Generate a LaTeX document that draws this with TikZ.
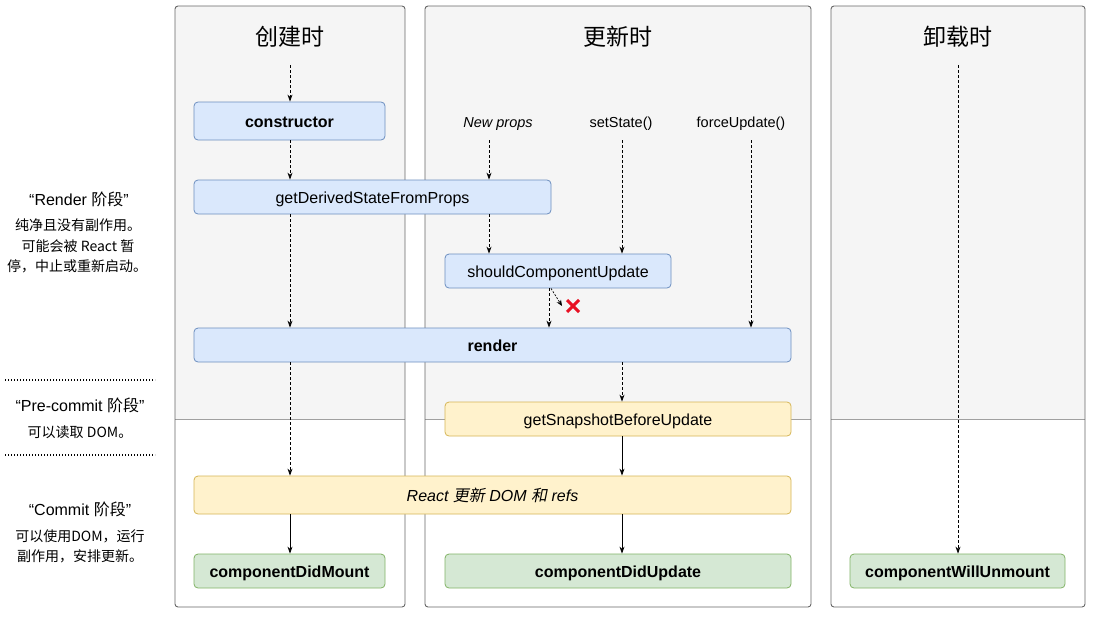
\documentclass[tikz,border=0pt]{standalone}
\usepackage{fontspec}
\setmainfont{Liberation Sans}
\newfontfamily\cjk{Noto Sans CJK SC}
\newfontfamily\cjki{Noto Sans CJK SC}[FakeSlant=0.2]
\usetikzlibrary{arrows.meta,calc}
\definecolor{colbg}{HTML}{F5F5F5}
\definecolor{colline}{HTML}{666666}
\definecolor{sepline}{HTML}{A0A0A0}
\definecolor{bfill}{HTML}{DAE8FC}
\definecolor{bline}{HTML}{6C8EBF}
\definecolor{yfill}{HTML}{FFF2CC}
\definecolor{yline}{HTML}{D6B656}
\definecolor{gfill}{HTML}{D5E8D4}
\definecolor{gline}{HTML}{82B366}
\definecolor{xred}{HTML}{E81123}
\begin{document}
\begin{tikzpicture}[x=1pt,y=-1pt,
  box/.style={draw, rounded corners=4pt, line width=0.8pt, inner sep=0pt, text=black, font=\fontsize{16}{19}\selectfont, text height=13pt, text depth=0pt},
  bluebox/.style={box, fill=bfill, draw=bline},
  yellowbox/.style={box, fill=yfill, draw=yline},
  greenbox/.style={box, fill=gfill, draw=gline},
  title/.style={font=\cjk\fontsize{23}{27}\selectfont, inner sep=0pt},
  trig/.style={font=\fontsize{14.5}{17}\selectfont, inner sep=0pt},
  phase/.style={font=\fontsize{16}{19}\selectfont, inner sep=0pt},
  desc/.style={font=\cjk\fontsize{14}{17}\selectfont, inner sep=0pt},
  dasharrow/.style={-{Stealth[length=7pt,width=5pt]}, dash pattern=on 3pt off 2pt, line width=0.8pt},
  solidarrow/.style={-{Stealth[length=7pt,width=5pt]}, line width=0.8pt},
  dotsep/.style={line width=1.3pt, dash pattern=on 1.3pt off 1.7pt},
  column/.style={draw=colline, line width=0.9pt, rounded corners=3pt}
]
\useasboundingbox (0,0) rectangle (1094,616);

% columns
\foreach \xa/\xb in {175/405, 425/811, 831/1085}{
  \begin{scope}
    \clip[rounded corners=3pt] (\xa,6) rectangle (\xb,607);
    \fill[white] (\xa,6) rectangle (\xb,607);
    \fill[colbg] (\xa,6) rectangle (\xb,419);
  \end{scope}
  \draw[sepline, line width=0.8pt] (\xa,419) -- (\xb,419);
  \draw[column] (\xa,6) rectangle (\xb,607);
}

% titles
\node[title] (t1) at (290,37) {创建时};
\node[title] (t2) at (618,37) {更新时};
\node[title] (t3) at (958,37) {卸载时};

% trigger labels
\node[trig] (np) at (498,124) {\itshape New props};
\node[trig] (ss) at (621,124) {setState()};
\node[trig] (fu) at (741,124) {forceUpdate()};

% nodes
\node[bluebox, minimum width=191, minimum height=38] (ctor) at (289.5,121) {\bfseries constructor};
\node[bluebox, minimum width=357, minimum height=34] (gdsfp) at (372.5,197) {getDerivedStateFromProps};
\node[bluebox, minimum width=226, minimum height=34] (scu) at (558,271) {shouldComponentUpdate};
\node[bluebox, minimum width=597, minimum height=34] (render) at (492.5,345) {\bfseries render};
\node[yellowbox, minimum width=346, minimum height=34] (gsbu) at (618,419) {getSnapshotBeforeUpdate};
\node[yellowbox, minimum width=597, minimum height=38] (rdom) at (492.5,495) {\itshape React {\cjki 更新} DOM {\cjki 和} refs};
\node[greenbox, minimum width=191, minimum height=34] (cdm) at (289.5,571) {\bfseries componentDidMount};
\node[greenbox, minimum width=346, minimum height=34] (cdu) at (618,571) {\bfseries componentDidUpdate};
\node[greenbox, minimum width=215, minimum height=34] (cwu) at (957.5,571) {\bfseries componentWillUnmount};

% x guides
\coordinate (xa) at (290,0);
\coordinate (xb) at (489,0);
\coordinate (xc) at (622,0);
\coordinate (xd) at (751,0);
\coordinate (xe) at (549,0);
\coordinate (xg) at (551,0);
\coordinate (xf) at (958,0);
\coordinate (s1) at (290,65);
\coordinate (s3) at (958,65);
\coordinate (npb) at (489,140);
\coordinate (ssb) at (622,140);
\coordinate (fub) at (751,140);
\coordinate (noend) at (562,306);

% connectors
\draw[dasharrow] (s1) -- (ctor.north -| xa);
\draw[dasharrow] (ctor.south -| xa) -- (gdsfp.north -| xa);
\draw[dasharrow] (gdsfp.south -| xa) -- (render.north -| xa);
\draw[dasharrow] (npb) -- (gdsfp.north -| xb);
\draw[dasharrow] (gdsfp.south -| xb) -- (scu.north -| xb);
\draw[dasharrow] (ssb) -- (scu.north -| xc);
\draw[dasharrow] (fub) -- (render.north -| xd);
\draw[dasharrow] (scu.south -| xe) -- (render.north -| xe);
\draw[-{Stealth[length=6pt,width=5pt]}, dash pattern=on 2pt off 1.5pt, line width=0.7pt] (scu.south -| xg) -- (noend);
\draw[dasharrow] (render.south -| xa) -- (rdom.north -| xa);
\draw[dasharrow] (render.south -| xc) -- (gsbu.north -| xc);
\draw[solidarrow] (gsbu.south -| xc) -- (rdom.north -| xc);
\draw[solidarrow] (rdom.south -| xa) -- (cdm.north -| xa);
\draw[solidarrow] (rdom.south -| xc) -- (cdu.north -| xc);
\draw[dasharrow] (s3) -- (cwu.north -| xf);

% red cross
\draw[xred, line width=3pt] (567,300) -- (579,312) (579,300) -- (567,312);

% left phase labels
\node[phase] (p1) at (79,199) {“Render {\cjk 阶段}”};
\node[desc] (d1a) at (78,225) {纯净且没有副作用。};
\node[desc] (d1b) at (78,246) {可能会被 React 暂};
\node[desc] (d1c) at (77,266) {停，中止或重新启动。};
\coordinate (l1a) at (5,380);
\coordinate (l1b) at (155,380);
\draw[dotsep] (l1a) -- (l1b);
\node[phase] (p2) at (80,405) {“Pre-commit {\cjk 阶段}”};
\node[desc] (d2) at (80,432) {可以读取 DOM。};
\coordinate (l2a) at (5,455);
\coordinate (l2b) at (155,455);
\draw[dotsep] (l2a) -- (l2b);
\node[phase] (p3) at (80,509) {“Commit {\cjk 阶段}”};
\node[desc] (d3a) at (80,536) {可以使用DOM，运行};
\node[desc] (d3b) at (80,556) {副作用，安排更新。};
\end{tikzpicture}
\end{document}
